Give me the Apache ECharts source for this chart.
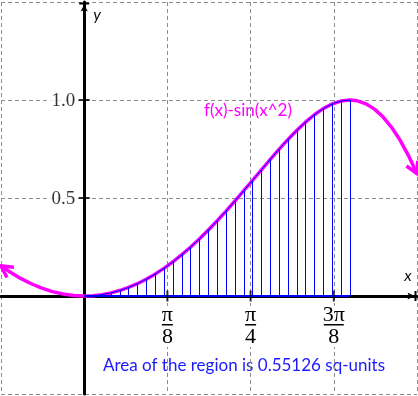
<!DOCTYPE html>
<html><head><meta charset="utf-8">
<script src="https://cdn.jsdelivr.net/npm/echarts@6/dist/echarts.min.js"></script>
<style>html,body{margin:0;padding:0;background:#fff}#c{width:418px;height:396px}</style>
</head><body><div id="c"></div>
<script>
const PI = Math.PI;
// tick values / labels
const xTickValues = [PI / 8, PI / 4, 3 * PI / 8];
const xTickNumerators = ['π', 'π', '3π'];
const xTickDenominators = ['8', '4', '8'];
const yTickValues = [0.5, 1.0];

// curve f(x) = sin(x^2)
const curveLeftX = [-0.3927, -0.35, -0.30, -0.25, -0.20, -0.15, -0.10, -0.05];
const curveLeftY = [0.1536, 0.1222, 0.0899, 0.0625, 0.0400, 0.0225, 0.0100, 0.0025];
const regionX = [0, 0.0418, 0.0836, 0.1253, 0.1671, 0.2089, 0.2507, 0.2924, 0.3342, 0.3760,
  0.4178, 0.4595, 0.5013, 0.5431, 0.5849, 0.6267, 0.6684, 0.7102, 0.7520, 0.7938,
  0.8355, 0.8773, 0.9191, 0.9609, 1.0027, 1.0444, 1.0862, 1.1280, 1.1698, 1.2115, 1.2533];
const regionY = [0, 0.0017, 0.0070, 0.0157, 0.0279, 0.0436, 0.0628, 0.0854, 0.1115, 0.1409,
  0.1736, 0.2096, 0.2487, 0.2907, 0.3355, 0.3827, 0.4321, 0.4833, 0.5358, 0.5892,
  0.6428, 0.6959, 0.7478, 0.7976, 0.8443, 0.8870, 0.9246, 0.9558, 0.9796, 0.9947, 1.0000];
const curveRightX = [1.29, 1.33, 1.37, 1.41, 1.45, 1.49, 1.53, 1.5708];
const curveRightY = [0.9957, 0.9804, 0.9535, 0.9142, 0.8620, 0.7965, 0.7178, 0.6243];

const curveLabel = 'f(x)-sin(x^2)';
const areaLabel = 'Area of the region is 0.55126 sq-units';
const xName = 'x';
const yName = 'y';

const zip = (xs, ys) => xs.map((x, i) => [x, ys[i]]);
const curveData = zip(curveLeftX, curveLeftY).concat(zip(regionX, regionY), zip(curveRightX, curveRightY));
const regionData = zip(regionX, regionY);
const baseData = [[regionX[0], 0], [regionX[regionX.length - 1], 0]];
const nC = curveData.length;
const arrowData = [
  curveData[1].concat(curveData[0]),
  curveData[nC - 2].concat(curveData[nC - 1])
];

const MAG = '#ff00ff', BLUE = '#0000ff', GRID = '#8c8c8c';
const axisEnd = 'path://M0,0 L10,0 L10,2 L0,2 Z M5,2 L8.6,9 L5,7.4 L1.4,9 Z';
const SERIF = 'Liberation Serif';

const chart = echarts.init(document.getElementById('c'), null, { renderer: 'canvas' });
chart.setOption({
  animation: false,
  grid: { left: 1, right: 1, top: 2, bottom: 2, containLabel: false, outerBoundsMode: 'none' },
  xAxis: {
    type: 'value', min: -PI / 8, max: PI / 2, interval: PI / 8,
    axisLine: { onZero: true, lineStyle: { color: '#000', width: 3 },
      symbol: ['none', axisEnd], symbolSize: [10, 9], symbolOffset: [0, -5] },
    axisTick: { show: false },
    axisLabel: { show: false },
    splitLine: { show: true, lineStyle: { color: [GRID, 'transparent', GRID, GRID, GRID, GRID], type: [4, 3], width: 1 } }
  },
  yAxis: {
    type: 'value', min: -0.5, max: 1.5, interval: 0.5,
    axisLine: { onZero: true, lineStyle: { color: '#000', width: 3 },
      symbol: ['none', axisEnd], symbolSize: [10, 9], symbolOffset: [0, -5] },
    axisTick: { show: false },
    axisLabel: { show: false },
    splitLine: { show: true, lineStyle: { color: [GRID, 'transparent', GRID, GRID, GRID], type: [4, 3], width: 1 } }
  },
  series: [
    {
      type: 'line', data: curveData, symbol: 'none', z: 3, silent: true,
      lineStyle: { color: MAG, width: 3.5 }
    },
    {
      type: 'custom', z: 3, silent: true, clip: false, data: arrowData,
      renderItem: function (params, api) {
        const a = api.coord([api.value(0), api.value(1)]);
        const b = api.coord([api.value(2), api.value(3)]);
        const ang = Math.atan2(a[1] - b[1], a[0] - b[0]);
        const L = 13, s = 0.5;
        const p1 = [b[0] + L * Math.cos(ang + s), b[1] + L * Math.sin(ang + s)];
        const p2 = [b[0] + L * Math.cos(ang - s), b[1] + L * Math.sin(ang - s)];
        return { type: 'polyline', shape: { points: [p1, b, p2] },
          style: { stroke: MAG, lineWidth: 3.5, fill: null, lineJoin: 'miter' } };
      }
    },
    {
      type: 'custom', z: 4, silent: true, data: regionData,
      renderItem: function (params, api) {
        const p0 = api.coord([api.value(0), 0]);
        const p1 = api.coord([api.value(0), api.value(1)]);
        const x = Math.round(p0[0]) + 0.5;
        return { type: 'line', shape: { x1: x, y1: p0[1], x2: x, y2: p1[1] },
          style: { stroke: BLUE, lineWidth: 1 } };
      }
    },
    { type: 'line', data: regionData, symbol: 'none', z: 5, silent: true, lineStyle: { color: BLUE, width: 1 } },
    { type: 'line', data: baseData, symbol: 'none', z: 5, silent: true, lineStyle: { color: BLUE, width: 2 } },
    {
      // x ticks
      type: 'scatter', z: 6, silent: true, symbol: 'rect', symbolSize: [2, 11],
      itemStyle: { color: '#000' }, data: xTickValues.map(v => [v, 0])
    },
    {
      // x fraction labels, placed through the x scale
      type: 'custom', z: 6, silent: true, clip: false,
      data: xTickValues.map((v, i) => [v, 0, i]),
      renderItem: function (params, api) {
        const p = api.coord([api.value(0), api.value(1)]);
        const i = api.value(2);
        const w = xTickNumerators[i].length > 1 ? 20 : 11;
        const font = '22px "' + SERIF + '"';
        return { type: 'group', children: [
          { type: 'rect', shape: { x: p[0] - w / 2 - 3, y: p[1] + 10, width: w + 6, height: 41 },
            style: { fill: '#fff' } },
          { type: 'text', style: { x: p[0], y: p[1] + 19.5, text: xTickNumerators[i], align: 'center',
            verticalAlign: 'middle', font: font, fill: '#000' } },
          { type: 'rect', shape: { x: p[0] - w / 2, y: p[1] + 28, width: w, height: 1.5 },
            style: { fill: '#000' } },
          { type: 'text', style: { x: p[0], y: p[1] + 41.5, text: xTickDenominators[i], align: 'center',
            verticalAlign: 'middle', font: font, fill: '#000' } }
        ] };
      }
    },
    {
      // y ticks + labels
      type: 'scatter', z: 6, silent: true, symbol: 'rect', symbolSize: [11, 2],
      itemStyle: { color: '#000' }, data: yTickValues.map(v => [0, v]),
      label: {
        show: true, position: 'left', distance: 3.5, offset: [0, 1],
        fontFamily: SERIF, fontSize: 19, color: '#000',
        backgroundColor: '#fff', padding: [0, 0, 0, 5],
        formatter: p => yTickValues[p.dataIndex].toFixed(1)
      }
    }
  ],
  graphic: [
    { type: 'text', silent: true, style: { x: 248, y: 111, text: curveLabel, align: 'center', verticalAlign: 'middle',
      fill: MAG, font: '17px Lato' } },
    { type: 'text', silent: true, style: { x: 244, y: 366, text: areaLabel, align: 'center', verticalAlign: 'middle',
      fill: '#1a1aff', font: '17px Lato' } },
    { type: 'text', silent: true, style: { x: 408, y: 276, text: xName, align: 'center', verticalAlign: 'middle',
      fill: '#111', font: 'italic 16px Lato' } },
    { type: 'text', silent: true, style: { x: 97, y: 15, text: yName, align: 'center', verticalAlign: 'middle',
      fill: '#111', font: 'italic 16px Lato' } }
  ]
});
</script></body></html>
